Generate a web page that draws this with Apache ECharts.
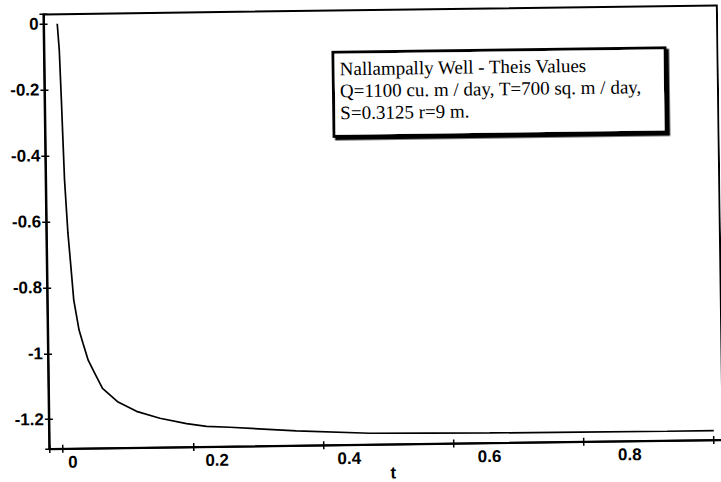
<!DOCTYPE html>
<html>
<head>
<meta charset="utf-8">
<script src="https://cdn.jsdelivr.net/npm/echarts@6/dist/echarts.min.js"></script>
<style>
  html, body { margin: 0; padding: 0; background: #fff; overflow: hidden; }
  #chart { width: 721px; height: 482px; transform: rotate(-0.77deg); transform-origin: 50% 50%; }
</style>
</head>
<body>
<div id="chart"></div>
<script>
// ---- data ----
var tValues = [0, 0.0026, 0.0048, 0.0061, 0.008, 0.0121, 0.016, 0.0197, 0.0272, 0.0331, 0.0406, 0.0505, 0.062, 0.0857, 0.1138, 0.1495, 0.1904, 0.2211, 0.2565, 0.359, 0.472, 0.564, 0.656, 0.794, 0.928, 1.0];
var drawdown = [0, -0.08, -0.231, -0.332, -0.474, -0.635, -0.738, -0.839, -0.930, -0.971, -1.022, -1.062, -1.108, -1.150, -1.179, -1.201, -1.2185, -1.2276, -1.231, -1.245, -1.255, -1.257, -1.259, -1.260, -1.261, -1.261];
var xRange = [-0.021, 1.0135];
var yRange = [-1.2897, 0.0288];
var tickStep = 0.2;
var xName = 't';
var infoLines = ['Nallampally Well - Theis Values', 'Q=1100 cu. m / day, T=700 sq. m / day,', 'S=0.3125 r=9 m.'];

var seriesData = tValues.map(function (t, i) { return [t, drawdown[i]]; });

var labelFont = { color: '#000', fontFamily: 'Liberation Sans, Arial, sans-serif', fontWeight: 'bold', fontSize: 17 };

// per-label left shift, as the scanned labels sit right of their ticks
var xLabelShift = [5, 12, 14, 24, 34];
var xRich = {};
xLabelShift.forEach(function (p, i) {
  xRich['p' + i] = Object.assign({ padding: [0, 0, 0, p] }, labelFont);
});

function fmtX(v) {
  if (v < -1e-6 || v > 0.999) return '';
  var i = Math.round(v / tickStep);
  return '{p' + i + '|' + String(+v.toFixed(2)) + '}';
}
function fmtY(v) {
  if (v > 1e-6 || v < -1.25) return '';
  return String(+v.toFixed(2));
}

var chart = echarts.init(document.getElementById('chart'), null, { renderer: 'svg' });
chart.setOption({
  animation: false,
  backgroundColor: '#fff',
  title: {
    text: infoLines.join('\n'),
    left: 335,
    top: 51.5,
    padding: [6, 24, 13, 7],
    borderColor: '#000',
    borderWidth: 3,
    backgroundColor: '#fff',
    shadowColor: '#000',
    shadowOffsetX: 2.5,
    shadowOffsetY: 2.5,
    shadowBlur: 0,
    textStyle: { color: '#000', fontFamily: 'Liberation Serif, Times New Roman, serif', fontWeight: 'normal', fontSize: 19, lineHeight: 22 }
  },
  grid: {
    left: 46.5, right: 1, top: 10.2, bottom: 37.2,
    containLabel: false,
    outerBoundsMode: 'none',
    show: true, borderColor: '#000', borderWidth: 2, backgroundColor: 'transparent'
  },
  xAxis: [{
    type: 'value', min: xRange[0], max: xRange[1], minInterval: tickStep, maxInterval: tickStep, splitNumber: 5,
    position: 'bottom',
    axisLine: { show: true, onZero: false, lineStyle: { color: '#000', width: 2 } },
    axisTick: { show: true, length: 4, lineStyle: { color: '#000', width: 1.5 } },
    splitLine: { show: false },
    axisLabel: Object.assign({ formatter: fmtX, margin: 5, align: 'left', rich: xRich }, labelFont),
    name: xName, nameLocation: 'middle', nameGap: 20, nameMoveOverlap: false,
    nameTextStyle: Object.assign({ padding: [0, 0, 0, 14] }, labelFont)
  }, {
    type: 'value', min: xRange[0], max: xRange[1], minInterval: tickStep, maxInterval: tickStep, splitNumber: 5,
    position: 'bottom',
    axisLine: { show: false, onZero: false },
    axisTick: { show: true, inside: true, length: 4, lineStyle: { color: '#000', width: 1.5 } },
    splitLine: { show: false },
    axisLabel: { show: false }
  }],
  yAxis: [{
    type: 'value', min: yRange[0], max: yRange[1], minInterval: tickStep, maxInterval: tickStep, splitNumber: 7,
    position: 'left',
    axisLine: { show: true, onZero: false, lineStyle: { color: '#000', width: 2 } },
    axisTick: { show: true, length: 4, lineStyle: { color: '#000', width: 1.5 } },
    splitLine: { show: false },
    axisLabel: Object.assign({ formatter: fmtY, margin: 5 }, labelFont)
  }, {
    type: 'value', min: yRange[0], max: yRange[1], minInterval: tickStep, maxInterval: tickStep, splitNumber: 7,
    position: 'left',
    axisLine: { show: false, onZero: false },
    axisTick: { show: true, inside: true, length: 4, lineStyle: { color: '#000', width: 1.5 } },
    splitLine: { show: false },
    axisLabel: { show: false }
  }],
  series: [{
    type: 'line',
    xAxisIndex: 0, yAxisIndex: 0,
    data: seriesData,
    showSymbol: false,
    smooth: false,
    lineStyle: { color: '#000', width: 1.7 }
  }]
});
</script>
</body>
</html>
